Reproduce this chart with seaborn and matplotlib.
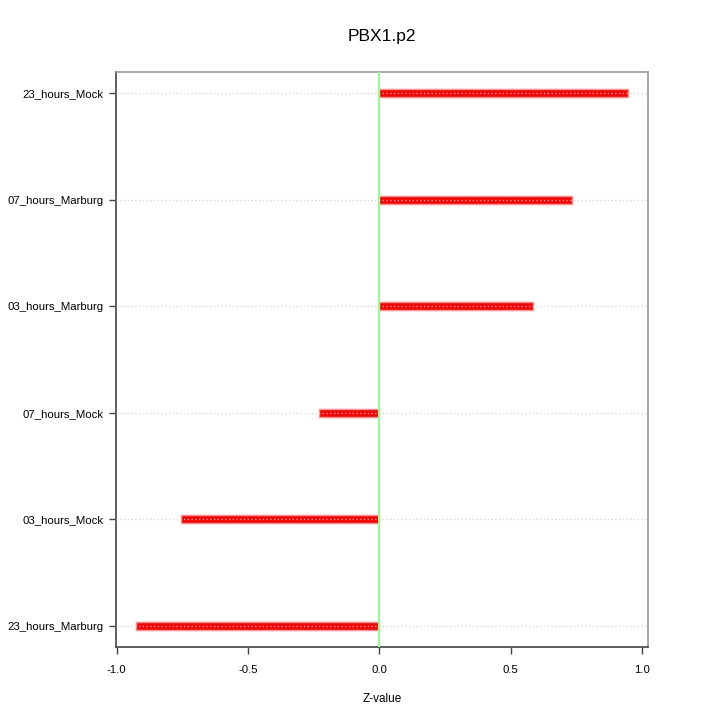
import matplotlib
matplotlib.use("Agg")
import matplotlib.pyplot as plt
import seaborn as sns
import pandas as pd

categories = ["23_hours_Mock", "07_hours_Marburg", "03_hours_Marburg",
              "07_hours_Mock", "03_hours_Mock", "23_hours_Marburg"]
zvalues = [0.947, 0.735, 0.586, -0.230, -0.755, -0.928]
xticks = [-1.0, -0.5, 0.0, 0.5, 1.0]
xticklabels = ["-1.0", "-0.5", "0.0", "0.5", "1.0"]

sns.set_style("white")
plt.rcParams['font.family'] = ['Liberation Sans', 'DejaVu Sans']

df = pd.DataFrame({"cond": categories, "z": zvalues})

fig = plt.figure(figsize=(7.2, 7.2), dpi=100)
ax = fig.add_axes([0.1611, 0.1014, 0.7385, 0.7986])

sns.barplot(data=df, x="z", y="cond", order=categories, orient="h",
            color="#ff0000", width=0.072, edgecolor="#ff9090", linewidth=1.0,
            saturation=1, ax=ax, zorder=2)

# grid lines on top of bars
for i in range(len(categories)):
    ax.axhline(i, color="#d3d3d3", linestyle=(0, (1, 2)), linewidth=0.9, zorder=3)

ax.axvline(0, color="#90ff90", linewidth=1.5, zorder=4)

vmin, vmax = min(zvalues), max(zvalues)
r = vmax - vmin
ax.set_xlim(vmin - 0.04 * r, vmax + 0.04 * r)
n = len(categories)
ax.set_ylim(n - 1 + 0.2, -0.2)

ax.set_xticks(xticks)
ax.set_xticklabels(xticklabels, fontsize=8.2, color="black")
ax.set_yticks(range(n))
ax.set_yticklabels(categories, fontsize=8.2, color="black")
ax.tick_params(axis="both", which="both", direction="out", length=5, width=1,
               color="#444444", left=True, bottom=True)
ax.tick_params(axis="x", pad=8)
ax.tick_params(axis="y", pad=4)

for s in ["top", "right"]:
    ax.spines[s].set_color("#999999")
    ax.spines[s].set_linewidth(1.2)
for s in ["left", "bottom"]:
    ax.spines[s].set_color("#444444")
    ax.spines[s].set_linewidth(1.2)

ax.set_xlabel("Z-value", fontsize=8.5, color="black", labelpad=13)
ax.set_ylabel("")
ax.set_title("PBX1.p2", fontsize=12.5, color="black", pad=22)

fig.savefig("out.png", dpi=100)
